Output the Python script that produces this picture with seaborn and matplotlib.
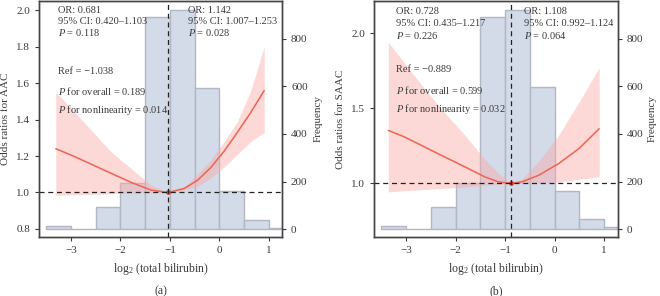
import matplotlib
matplotlib.use("Agg")
import matplotlib.pyplot as plt
import numpy as np
import pandas as pd
import seaborn as sns

# histogram of log2(total bilirubin), bins of 0.5
bin_edges = [-3.5, -3.0, -2.5, -2.0, -1.5, -1.0, -0.5, 0.0, 0.5, 1.0, 1.5]
counts_a = [14, 2, 91, 196, 892, 920, 595, 162, 38, 3]
counts_b = [15, 2, 92, 195, 893, 920, 596, 162, 41, 7]

# restricted cubic spline
x_a = [-3.31, -2.99, -2.59, -2.18, -1.78, -1.38, -1.038, -0.71, -0.44, -0.17, 0.10, 0.37, 0.64, 0.91]
or_a = [1.240, 1.204, 1.155, 1.104, 1.055, 1.013, 1.0, 1.022, 1.067, 1.137, 1.227, 1.331, 1.44, 1.559]
lo_a = [0.985, 0.987, 0.99, 0.993, 0.996, 0.999, 1.0, 1.012, 1.034, 1.08, 1.14, 1.21, 1.28, 1.33]
hi_a = [1.55, 1.46, 1.34, 1.22, 1.13, 1.04, 1.0, 1.03, 1.10, 1.18, 1.28, 1.39, 1.56, 1.80]

x_b = [-3.36, -3.03, -2.63, -2.22, -1.81, -1.41, -1.14, -0.889, -0.66, -0.32, 0.08, 0.49, 0.90]
or_b = [1.353, 1.309, 1.243, 1.176, 1.11, 1.044, 1.011, 1.0, 1.011, 1.055, 1.132, 1.232, 1.364]
lo_b = [0.944, 0.952, 0.96, 0.968, 0.977, 0.988, 0.995, 1.0, 1.0, 1.003, 1.01, 1.027, 1.044]
hi_b = [1.94, 1.80, 1.63, 1.47, 1.32, 1.16, 1.07, 1.0, 1.03, 1.15, 1.32, 1.54, 1.77]

ref_a = -1.038
ref_b = -0.889

txt_a = dict(left=["OR: 0.681", "95% CI: 0.420\u20131.103", "$\\it{P}$ = 0.118"],
             right=["OR: 1.142", "95% CI: 1.007\u20131.253", "$\\it{P}$ = 0.028"],
             stats=["Ref = \u22121.038", "$\\it{P}$ for overall = 0.189",
                    "$\\it{P}$ for nonlinearity = 0.014"])
txt_b = dict(left=["OR: 0.728", "95% CI: 0.435\u20131.217", "$\\it{P}$ = 0.226"],
             right=["OR: 1.108", "95% CI: 0.992\u20131.124", "$\\it{P}$ = 0.064"],
             stats=["Ref = \u22120.889", "$\\it{P}$ for overall = 0.599",
                    "$\\it{P}$ for nonlinearity = 0.032"])

sns.set_style("ticks")
plt.rcParams['font.family'] = ['Liberation Serif', 'DejaVu Serif']
plt.rcParams['mathtext.fontset'] = 'custom'
plt.rcParams['mathtext.it'] = 'Liberation Serif:italic'
plt.rcParams['mathtext.rm'] = 'Liberation Serif'
plt.rcParams['axes.unicode_minus'] = True

TXT = "#3a3a3a"
HIST = "#d3dae8"
HIST_EDGE = "#b3b7c2"
LINE = "#ee6352"
BAND = "#f9a9a6"

fig = plt.figure(figsize=(6.6, 2.96), dpi=100)


def panel(rect, counts, xs, ors, lo, hi, ref, ylim, yticks, ylab, txt, tpos, gap, labx, letter):
    ax = fig.add_axes(rect)
    ax2 = ax.twinx()
    centers = [(bin_edges[i] + bin_edges[i + 1]) / 2 for i in range(len(counts))]
    hist_df = pd.DataFrame({"x": centers, "n": counts})
    sns.histplot(data=hist_df, x="x", weights="n", bins=bin_edges, ax=ax2,
                 color=HIST, edgecolor=HIST_EDGE, linewidth=1.0, alpha=1)
    ax2.set_ylim(-33, 959)
    ax2.set_yticks([0, 200, 400, 600, 800])
    ax2.set_ylabel("Frequency", color=TXT, fontsize=8)
    ax2.yaxis.set_label_coords(labx[1], 0.5)

    # curve axis on top of the histogram axis
    ax.set_zorder(ax2.get_zorder() + 1)
    ax.patch.set_visible(False)

    ax.fill_between(xs, lo, hi, color=BAND, alpha=0.45, linewidth=0)
    curve = pd.DataFrame({"x": xs, "y": ors})
    sns.lineplot(data=curve, x="x", y="y", ax=ax, color=LINE, lw=1.1)
    ax.plot([ref], [1.0], "o", color="#e8382c", ms=2.5)
    ax.axhline(1.0, color="#222222", ls=(0, (4, 3)), lw=0.9)
    ax.axvline(ref, color="#222222", ls=(0, (4, 3)), lw=0.9)

    ax.set_xlim(-3.65, 1.27)
    ax.set_ylim(*ylim)
    ax.set_yticks(yticks)
    ax.set_xticks([-3, -2, -1, 0, 1])
    ax.set_xlabel("log$_2$ (total bilirubin)", color=TXT, fontsize=8.5, labelpad=4)
    ax.set_ylabel(ylab, color=TXT, fontsize=8)
    ax.yaxis.set_label_coords(labx[0], 0.5)
    ax2.set_xlabel("")

    for a in (ax, ax2):
        a.tick_params(labelsize=8, colors=TXT, length=3, width=0.8)
        for s in a.spines.values():
            s.set_color("#444444")
            s.set_linewidth(1.0)
    ax.yaxis.set_major_formatter(matplotlib.ticker.FormatStrFormatter("%.1f"))

    tx = ax.transAxes
    (lx, ly), (rx, ry), (sx, sy) = tpos
    for i, s in enumerate(txt["left"]):
        ax.text(lx, ly - i * gap, s, transform=tx, fontsize=7.5, color=TXT, va="center")
    for i, s in enumerate(txt["right"]):
        ax.text(rx, ry - i * gap, s, transform=tx, fontsize=7.5, color=TXT, va="center")
    for i, s in enumerate(txt["stats"]):
        ax.text(sx, sy - i * 0.083, s, transform=tx, fontsize=7.5, color=TXT, va="center")

    cx = rect[0] + rect[2] * 0.5
    fig.text(cx, 0.017, letter, ha="center", va="center", fontsize=8.5, color=TXT)


bottom = 1 - 237 / 296
height = (236 / 296)
panel([39 / 660, bottom, 243 / 660, height], counts_a, x_a, or_a, lo_a, hi_a, ref_a,
      (0.756, 2.05), [0.8, 1.0, 1.2, 1.4, 1.6, 1.8, 2.0], "Odds ratios for AAC", txt_a,
      [(0.08, 0.96), (0.613, 0.96), (0.08, 0.703)], 0.047, (-0.12, 1.13), "(a)")
panel([374 / 660, bottom, 243.5 / 660, height], counts_b, x_b, or_b, lo_b, hi_b, ref_b,
      (0.644, 2.214), [1.0, 1.5, 2.0], "Odds ratios for SAAC", txt_b,
      [(0.09, 0.955), (0.616, 0.955), (0.09, 0.708)], 0.051, (-0.12, 1.125), "(b)")

fig.savefig("out.png", dpi=100)
